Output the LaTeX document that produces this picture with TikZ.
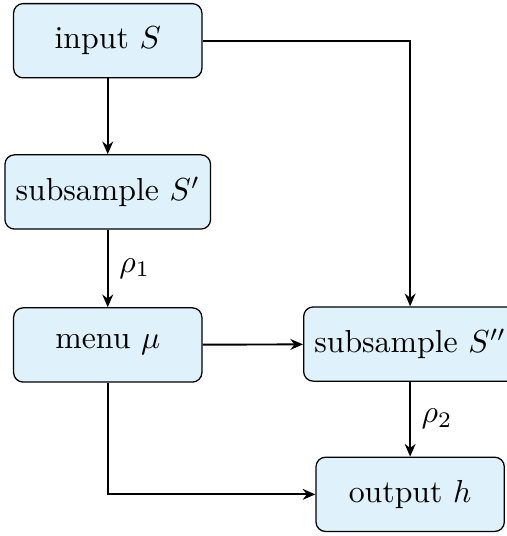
\documentclass[tikz,border=0pt]{standalone}
\usepackage{amsmath}
\usepackage{amssymb}
\usetikzlibrary{positioning,calc,arrows.meta}

\definecolor{boxblue}{RGB}{223,242,251}

\begin{document}
\begin{tikzpicture}[
    stage/.style={rectangle, draw, rounded corners=3pt, fill=boxblue, minimum width=2.08cm, minimum height=0.82cm},
    flow/.style={draw, semithick, -{Stealth[length=1.4mm, width=1.2mm]}}
]
\useasboundingbox (0,0) rectangle (5.59,-5.92);

% Define stage positions
\node[stage] (input) at (1.19, -0.45) {input $S$};
\node[stage] (subA) at (1.19, -2.12) {subsample $S'$};
\node[stage] (menu) at (1.19, -3.81) {menu $\mu$};
\node[stage] (subB) at (4.53, -3.80) {subsample $S''$};
\node[stage] (output) at (4.53, -5.46) {output $h$};

% Draw arrows between stages
\draw[flow] (input) -- (subA);
\draw[flow] (subA) -- (menu) node[midway, right] {$\rho_1$};
\draw[flow] (menu) -- (subB);
\draw[flow] (subB) -- (output) node[midway, right] {$\rho_2$};
\draw[flow] (input) -| (subB);
\draw[flow] (menu) |- (output);

\end{tikzpicture}
\end{document}
